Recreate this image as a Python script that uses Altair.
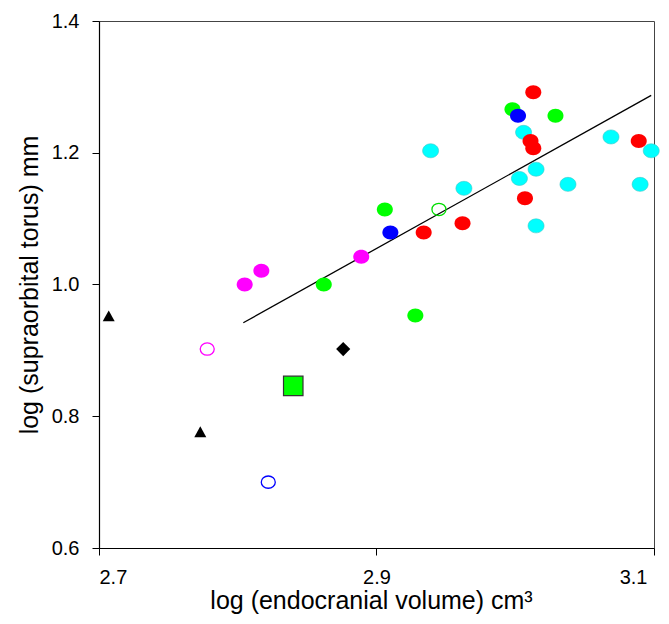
import altair as alt
import pandas as pd

# ---- data ----
magenta_x = [2.805, 2.817, 2.889]
magenta_y = [1.000, 1.021, 1.042]
magenta_open_x = [2.778]
magenta_open_y = [0.902]
green_x = [2.862, 2.906, 2.928, 2.998, 3.029]
green_y = [1.000, 1.114, 0.953, 1.266, 1.256]
green_open_x = [2.945]
green_open_y = [1.114]
green_square_x = [2.840]
green_square_y = [0.846]
blue_x = [2.910, 3.002]
blue_y = [1.079, 1.256]
blue_open_x = [2.822]
blue_open_y = [0.700]
red_x = [2.934, 2.962, 3.013, 3.011, 3.013, 3.007, 3.089]
red_y = [1.079, 1.093, 1.292, 1.218, 1.207, 1.131, 1.218]
cyan_x = [2.939, 2.963, 3.006, 3.015, 3.003, 3.015, 3.038, 3.069, 3.098, 3.090]
cyan_y = [1.203, 1.146, 1.231, 1.175, 1.161, 1.089, 1.152, 1.224, 1.203, 1.152]
triangle_x = [2.707, 2.773]
triangle_y = [0.952, 0.776]
diamond_x = [2.876]
diamond_y = [0.902]
fit_x = [2.804, 3.098]
fit_y = [0.942, 1.287]

x_ticks = [2.7, 2.9, 3.1]
y_ticks = [0.6, 0.8, 1.0, 1.2, 1.4]

FONT = "Liberation Sans"
ELLIPSE = "M -1 0 A 1 0.875 0 1 1 1 0 A 1 0.875 0 1 1 -1 0 Z"
TRIANGLE = "M 0 -0.95 L 1 0.85 L -1 0.85 Z"

xs = alt.Scale(domain=[2.7, 3.1], nice=False, zero=False)
ys = alt.Scale(domain=[0.6, 1.4], nice=False, zero=False)

x_axis = alt.Axis(values=x_ticks, format=".1f", title="log (endocranial volume) cm³",
                  grid=False, tickSize=7, labelPadding=12, labelBaseline="top",
                  labelOffset=alt.ExprRef("datum.value > 3.05 ? -7 : 0"),
                  titleX=272, titleY=60, titleBaseline="alphabetic", titleAlign="center")
y_axis = alt.Axis(values=y_ticks, format=".1f", title="log (supraorbital torus) mm",
                  grid=False, tickSize=7, labelPadding=13,
                  titleX=-62, titleAngle=-90, titleBaseline="alphabetic",
                  titleAlign="center")


def df(xv, yv):
    return pd.DataFrame({"x": xv, "y": yv})


def enc(chart):
    return chart.encode(
        x=alt.X("x:Q", scale=xs, axis=x_axis),
        y=alt.Y("y:Q", scale=ys, axis=y_axis),
    )


def pts(xv, yv, **mark):
    return enc(alt.Chart(df(xv, yv)).mark_point(**mark))


line = enc(alt.Chart(df(fit_x, fit_y)).mark_line(color="black", strokeWidth=1.3))

layers = [
    line,
    pts(cyan_x, cyan_y, shape=ELLIPSE, size=256, filled=True, fill="#00FFFF",
        stroke="#3cc8c8", strokeWidth=0.6, opacity=1),
    pts(green_x, green_y, shape=ELLIPSE, size=256, filled=True, fill="#00FF00",
        strokeWidth=0, opacity=1),
    pts(blue_x, blue_y, shape=ELLIPSE, size=256, filled=True, fill="#0000FF",
        strokeWidth=0, opacity=1),
    pts(red_x, red_y, shape=ELLIPSE, size=256, filled=True, fill="#FF0000",
        strokeWidth=0, opacity=1),
    pts(magenta_x, magenta_y, shape=ELLIPSE, size=256, filled=True, fill="#FF00FF",
        strokeWidth=0, opacity=1),
    pts(magenta_open_x, magenta_open_y, shape=ELLIPSE, size=196, filled=False,
        stroke="#FF00FF", strokeWidth=1.3, opacity=1),
    pts(green_open_x, green_open_y, shape=ELLIPSE, size=196, filled=False,
        stroke="#00DD00", strokeWidth=1.3, opacity=1),
    pts(blue_open_x, blue_open_y, shape=ELLIPSE, size=196, filled=False,
        stroke="#0000FF", strokeWidth=1.3, opacity=1),
    pts(green_square_x, green_square_y, shape="square", size=380, filled=True,
        fill="#00FF00", stroke="#333333", strokeWidth=1.2, opacity=1),
    pts(triangle_x, triangle_y, shape=TRIANGLE, size=144, filled=True,
        fill="black", strokeWidth=0, opacity=1),
    pts(diamond_x, diamond_y, shape="diamond", size=200, filled=True,
        fill="black", strokeWidth=0, opacity=1),
]

chart = alt.layer(*layers).properties(
    width=555, height=527,
    autosize=alt.AutoSizeParams(type="none"),
    padding={"left": 91, "top": 13, "right": 6, "bottom": 66},
).configure_view(
    stroke="#444444", strokeWidth=1
).configure_axis(
    domainColor="black", tickColor="black", domainWidth=1.2, tickWidth=1,
    labelFont=FONT, titleFont=FONT, labelFontSize=20, titleFontSize=25,
    labelColor="black", titleColor="black", titleFontWeight="normal",
)

chart.save("out.html", embed_options={"renderer": "svg", "actions": False})
